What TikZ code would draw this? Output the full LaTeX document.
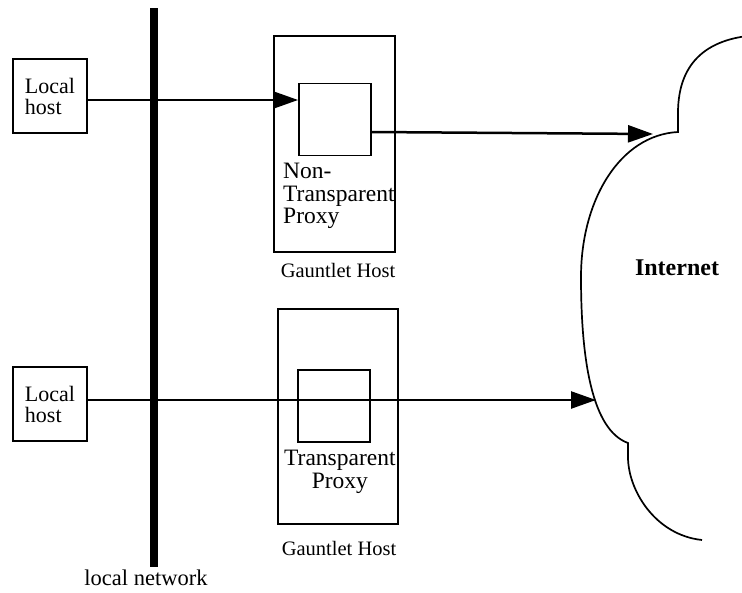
\documentclass[tikz,border=0pt]{standalone}
\usepackage{fontspec}
\setmainfont{Liberation Serif}
\usepackage{tikz}
\usetikzlibrary{arrows.meta}

\begin{document}
\begin{tikzpicture}[x=1pt,y=-1pt,
    hostbox/.style={draw,line width=2.6pt,minimum width=74pt,minimum height=74pt,
        align=left,inner sep=0pt,font=\fontsize{22}{21}\selectfont},
    gauntlet/.style={draw,line width=1.4pt,minimum width=121pt,minimum height=216pt},
    proxybox/.style={draw,line width=1.8pt,minimum width=72pt,minimum height=72pt},
    proxytext/.style={inner sep=0pt,font=\fontsize{23.5}{22.5}\selectfont},
    smalltext/.style={inner sep=0pt,font=\fontsize{20.5}{20.5}\selectfont},
    arr/.style={-{Triangle[length=25pt,width=17pt]},line width=2.5pt}]
    \useasboundingbox (0,0) rectangle (742,592);
    % local network
    \draw[line width=8pt] (154,8) coordinate(nt) -- (154,567) coordinate(nb);
    \node[smalltext,font=\fontsize{22.5}{22.5}\selectfont,anchor=base] at(146,585)(net){local network};
    % local hosts
    \node[hostbox] at(50,96)(lh1){Local\\host};
    \node[hostbox] at(50,404)(lh2){Local\\host};
    % gauntlet hosts
    \node[gauntlet] at(334.5,144)(gh1){};
    \node[proxybox] at(335,119.5)(np){};
    \node[proxytext,align=left,anchor=north west] at(283,163)(npt){Non-\\Transparent\\Proxy};
    \node[smalltext,anchor=base] at(338,277)(g1){Gauntlet Host};
    \node[gauntlet,minimum width=120pt,minimum height=215pt] at(338,416.5)(gh2){};
    \node[proxybox] at(334,406)(tp){};
    \node[proxytext,align=center,anchor=north west] at(284,450)(tpt){Transparent\\Proxy};
    \node[smalltext,anchor=base] at(339,555)(g2){Gauntlet Host};
    % internet cloud
    \draw[line width=1.7pt] (760,35) .. controls (710,37) and (678,60) .. (678,113)
        -- (678,132) .. controls (620,135) and (581,200) .. (581,277)
        .. controls (581,360) and (592,430) .. (628,443)
        -- (628,457) .. controls (628,490) and (655,535) .. (702,540);
    \coordinate (in1) at (653,134);
    \coordinate (in2) at (596,400);
    \node[font=\fontsize{24}{24}\selectfont\bfseries,inner sep=0pt] at(677,268)(inet){Internet};
    % connections
    \coordinate (a1) at ([yshift=-4pt]lh1.east);
    \coordinate (a2) at ([yshift=-12.5pt]np.east);
    \coordinate (a3) at ([yshift=4pt]lh2.east);
    \draw[arr] (a1) -- (a1 -| np.west);
    \draw[arr] (a2) -- (in1);
    \draw[arr] (a3) -- (a3 -| in2);
\end{tikzpicture}
\end{document}
